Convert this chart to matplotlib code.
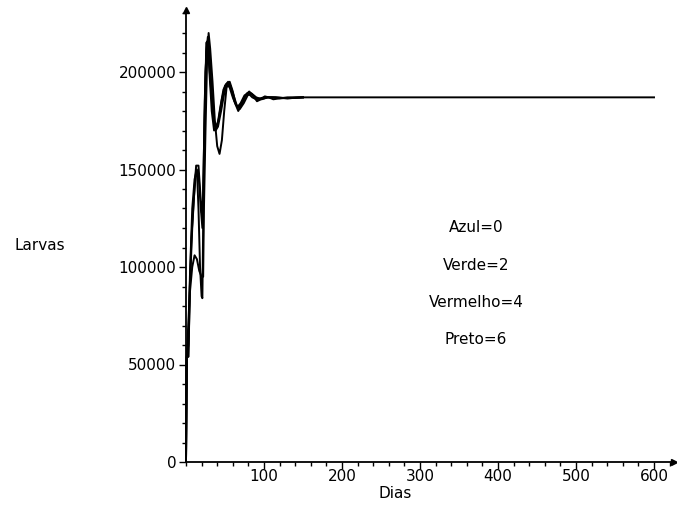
import matplotlib
matplotlib.use("Agg")
import matplotlib.pyplot as plt
from matplotlib.ticker import MultipleLocator

# Days and larvae values, four scenarios
t1 = [0, 1, 3, 5, 8, 11, 14, 17, 20, 22, 23, 25, 27, 29, 31, 34, 37, 40, 43, 46, 49, 52, 56, 60,
      64, 67, 71, 76, 81, 86, 91, 96, 101, 106, 112, 120, 130, 150]
v1 = [0, 54000, 54000, 87000, 100000, 106000, 104000, 98000, 95000, 95000, 130000, 170000, 205000,
      220000, 212000, 195000, 175000, 162000, 158000, 165000, 180000, 192000, 195000, 190000,
      183000, 180000, 183000, 188000, 190000, 188000, 185000, 186000, 187500, 187000, 186000,
      186500, 187000, 187000]

t2 = [0, 1, 3, 5, 8, 11, 13, 16, 18, 20, 22, 24, 26, 28, 30, 33, 36, 39, 42, 46, 50, 54, 58,
      62, 66, 70, 75, 80, 85, 90, 100, 110, 120, 150]
v2 = [0, 54000, 54000, 90000, 120000, 141000, 152000, 152000, 140000, 128000, 135000, 185000,
      210000, 218000, 210000, 190000, 175000, 172000, 176000, 186000, 193000, 195000, 191000,
      185000, 182000, 184000, 188000, 189000, 187000, 186000, 187000, 187000, 186500, 187000]

t3 = [0, 1, 3, 5, 8, 11, 14, 16, 18, 20, 21, 22, 24, 26, 28, 30, 33, 36, 40, 44, 48, 52, 56,
      60, 64, 68, 73, 78, 83, 88, 95, 105, 115, 130, 150]
v3 = [0, 54000, 60000, 95000, 130000, 145000, 150000, 130000, 100000, 85000, 84000, 120000,
      175000, 215000, 216000, 200000, 180000, 170000, 172000, 182000, 191000, 194000, 192000,
      187000, 183000, 182000, 185000, 189000, 189000, 187000, 186000, 187000, 187000, 186500, 187000]

t4 = [0, 1, 4, 7, 10, 13, 16, 19, 21, 23, 25, 27, 29, 32, 35, 38, 41, 45, 49, 53, 57, 61, 65,
      69, 74, 79, 84, 90, 97, 105, 115, 130, 150, 600]
v4 = [0, 54000, 80000, 115000, 135000, 150000, 148000, 130000, 120000, 160000, 200000, 214000,
      208000, 192000, 178000, 170000, 172000, 180000, 189000, 194000, 193000, 188000, 183000,
      181000, 184000, 188000, 189000, 187000, 186000, 187000, 187000, 186500, 187000, 187000]

x_ticks = [100, 200, 300, 400, 500, 600]
y_ticks = [0, 50000, 100000, 150000, 200000]
notes = ["Azul=0", "Verde=2", "Vermelho=4", "Preto=6"]
note_y = [120000, 101000, 82000, 62600]

plt.rcParams['font.family'] = ['DejaVu Sans']

fig = plt.figure(figsize=(6.77, 5.26), dpi=100)
ax = fig.add_axes([186/677, 64/526, (674-186)/677, (462-10)/526])

for t, v in [(t1, v1), (t2, v2), (t3, v3), (t4, v4)]:
    ax.plot(t, v, color='black', lw=1.4, clip_on=False)

ax.set_xlim(0, (674-186)/0.78)
ax.set_ylim(0, (462-10)/1.95*1000)

for s in ['top', 'right']:
    ax.spines[s].set_visible(False)
for s in ['left', 'bottom']:
    ax.spines[s].set_linewidth(1.3)
    ax.spines[s].set_color('black')

ax.plot(1, 0, marker='>', color='black', ms=5, transform=ax.transAxes, clip_on=False)
ax.plot(0, 1, marker='^', color='black', ms=5, transform=ax.transAxes, clip_on=False)

ax.set_xticks(x_ticks)
ax.set_xticklabels([str(x) for x in x_ticks])
ax.set_yticks(y_ticks)
ax.set_yticklabels([str(y) for y in y_ticks])
ax.xaxis.set_minor_locator(MultipleLocator(20))
ax.yaxis.set_minor_locator(MultipleLocator(10000))
ax.tick_params(axis='both', which='major', direction='out', length=5, width=1, labelsize=11)
ax.tick_params(axis='x', which='major', pad=0)
ax.tick_params(axis='y', which='major', pad=2)
ax.tick_params(axis='both', which='minor', direction='out', length=3, width=1)

for txt, yy in zip(notes, note_y):
    ax.text(372, yy, txt, ha='center', va='center', fontsize=11)

ax.text(-188, 111000, "Larvas", ha='center', va='center', fontsize=11, clip_on=False)
ax.text(268, -16000, "Dias", ha='center', va='center', fontsize=11, clip_on=False)

fig.savefig("out.png", dpi=100)
